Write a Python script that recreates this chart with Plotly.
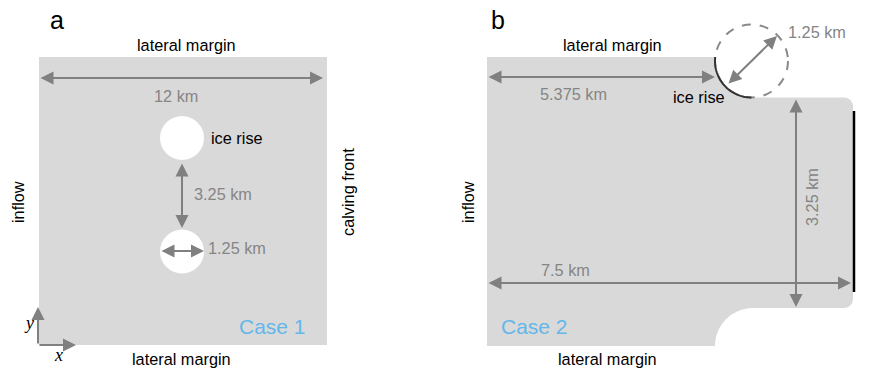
import numpy as np
import plotly.graph_objects as go

# ---- content ----
panel_labels = ["a", "b"]
case_labels = ["Case 1", "Case 2"]
dims_a_km = [12, 3.25, 1.25]          # domain width, ice-rise spacing, ice-rise diameter
dims_b_km = [5.375, 1.25, 3.25, 7.5]  # ice-rise position, diameter, channel width, channel length
boundary_labels = ["lateral margin", "lateral margin", "inflow", "calving front"]
ice_rise_label = "ice rise"
axis_letters = ["x", "y"]

def km(v):
    return f"{v:g} km"

GRAY_FILL = "#d9d9d9"
ARROW = "#808080"
TXT_GRAY = "#858585"
BLUE = "#63b7ea"
FONT = "Liberation Sans, Arial, sans-serif"
PAGE_OFF = 8  # default body margin of the html page

fig = go.Figure()
fig.add_trace(go.Scatter(x=[100], y=[100], mode="markers", marker=dict(opacity=0), hoverinfo="skip", showlegend=False))

shapes = []
ann = []

def text(x, y, s, size=16.3, color="black", xanchor="center", angle=0, family=FONT, italic=False):
    ann.append(dict(x=x, y=y, text=f"<i>{s}</i>" if italic else s, showarrow=False, xanchor=xanchor,
                    yanchor="middle", textangle=angle, font=dict(size=size, color=color, family=family),
                    xref="x", yref="y"))

def arrow(x0, y0, x1, y1, both=True, w=2):
    d = dict(x=x1, y=y1, ax=x0, ay=y0, xref="x", yref="y", axref="x", ayref="y", text="",
             showarrow=True, arrowhead=2, arrowsize=1.3, arrowwidth=w, arrowcolor=ARROW,
             standoff=0, startstandoff=0)
    if both:
        d.update(arrowside="end+start", startarrowhead=2, startarrowsize=1.3)
    ann.append(d)

# ---------- panel a ----------
shapes.append(dict(type="rect", x0=39, y0=57, x1=327, y1=345, fillcolor=GRAY_FILL, line=dict(width=0), layer="below"))
for cy in (138, 251.5):
    shapes.append(dict(type="circle", x0=160, x1=204, y0=cy - 22, y1=cy + 22, fillcolor="white", line=dict(width=0)))
arrow(39, 78, 323, 78)
text(176, 96, km(dims_a_km[0]), color=TXT_GRAY)
arrow(182, 162, 182, 228)
text(192, 194, km(dims_a_km[1]), color=TXT_GRAY, xanchor="left")
arrow(160, 251, 204, 251)
text(206, 248, km(dims_a_km[2]), color=TXT_GRAY, xanchor="left")
text(237, 138, ice_rise_label)
text(57, 20, panel_labels[0], size=25)
text(186, 45, boundary_labels[0])
text(181, 359, boundary_labels[1])
text(18, 202, boundary_labels[2], angle=-90)
text(348, 192, boundary_labels[3], angle=-90)
text(308, 326, case_labels[0], size=21, color=BLUE, xanchor="right")
arrow(38, 345, 38, 307, both=False)
arrow(38, 345, 76, 345, both=False)
text(29, 323, axis_letters[1], size=18, family="Liberation Serif, Times New Roman, serif", italic=True)
text(58, 355, axis_letters[0], size=18, family="Liberation Serif, Times New Roman, serif", italic=True)

# ---------- panel b ----------
tcx, tcy, tr = 751.5, 61, 36.5
bcx, bcy, br = 753, 346, 38
top_y, bot_y, left_x, right_x = 57, 346, 487, 853
ch_top, ch_bot, rc = 97.5, 308, 9

pts = [(left_x, top_y)]
th0 = np.pi + np.arcsin((tcy - top_y) / tr)
for t in np.linspace(th0, np.pi / 2, 40):
    pts.append((tcx + tr * np.cos(t), tcy + tr * np.sin(t)))
pts.append((right_x - rc, ch_top))
for t in np.linspace(-np.pi / 2, 0, 10):
    pts.append((right_x - rc + rc * np.cos(t), ch_top + rc + rc * np.sin(t)))
pts.append((right_x, ch_bot - rc))
for t in np.linspace(0, np.pi / 2, 10):
    pts.append((right_x - rc + rc * np.cos(t), ch_bot - rc + rc * np.sin(t)))
for t in np.linspace(-np.pi / 2, -np.pi, 30):
    pts.append((bcx + br * np.cos(t), bcy + br * np.sin(t)))
pts.append((left_x, bot_y))
path = "M " + " L ".join(f"{x:.2f},{y:.2f}" for x, y in pts) + " Z"
shapes.append(dict(type="path", path=path, fillcolor=GRAY_FILL, line=dict(width=0), layer="below"))

shapes.append(dict(type="circle", x0=tcx - tr, x1=tcx + tr, y0=tcy - tr, y1=tcy + tr,
                   line=dict(color="#8a8a8a", width=2, dash="dash")))
arc = [(tcx + tr * np.cos(t), tcy + tr * np.sin(t)) for t in np.linspace(th0, np.pi / 2, 40)]
shapes.append(dict(type="path", path="M " + " L ".join(f"{x:.2f},{y:.2f}" for x, y in arc),
                   line=dict(color="#333333", width=2)))
shapes.append(dict(type="line", x0=854, x1=854, y0=111, y1=292, line=dict(color="black", width=2.5)))

arrow(487, 77, 715, 77)
text(573, 94, km(dims_b_km[0]), color=TXT_GRAY)
arrow(727, 85, 777, 36)
text(786, 32, km(dims_b_km[1]), color=TXT_GRAY, xanchor="left")
arrow(796, 98, 796, 307)
text(812, 197, km(dims_b_km[2]), color=TXT_GRAY, angle=-90)
arrow(487, 283, 851, 283)
text(565, 270, km(dims_b_km[3]), color=TXT_GRAY)
text(699, 97, ice_rise_label)
text(498, 20, panel_labels[1], size=25)
text(612, 45, boundary_labels[0])
text(607, 359, boundary_labels[1])
text(468, 202, boundary_labels[2], angle=-90)
text(874, 200, boundary_labels[3], angle=-90)
text(499, 326, case_labels[1], size=21, color=BLUE, xanchor="left")

W, H = 875, 368
fig.update_layout(
    width=W - PAGE_OFF, height=H - PAGE_OFF, autosize=False,
    margin=dict(l=0, r=0, t=0, b=0, pad=0),
    paper_bgcolor="white", plot_bgcolor="white",
    xaxis=dict(range=[PAGE_OFF, W], visible=False, fixedrange=True),
    yaxis=dict(range=[H, PAGE_OFF], visible=False, fixedrange=True),
    shapes=shapes, annotations=ann, showlegend=False,
)
fig.write_html("out.html", config={"displayModeBar": False})
